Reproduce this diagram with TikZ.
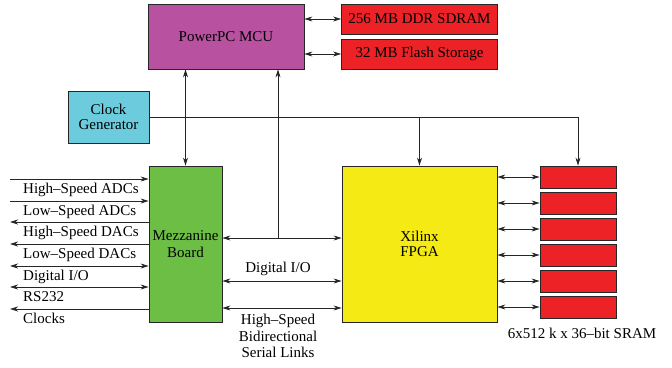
\documentclass[tikz,border=0pt]{standalone}
\usepackage{fontspec}
\setmainfont{Liberation Serif}
\usetikzlibrary{arrows.meta}
\definecolor{ppccol}{RGB}{184,82,160}
\definecolor{memcol}{RGB}{236,34,39}
\definecolor{mezzcol}{RGB}{108,190,69}
\definecolor{fpgacol}{RGB}{245,234,20}
\definecolor{clkcol}{RGB}{108,204,221}
\begin{document}
\begin{tikzpicture}[x=1pt,y=-1pt,
  box/.style={draw=black!85,line width=0.8pt,inner sep=0pt,align=center,
    font=\fontsize{15}{15}\selectfont},
  lbl/.style={inner sep=0pt,font=\fontsize{15}{16.5}\selectfont},
  conn/.style={draw=black!85,line width=0.8pt},
  tip/.tip={Stealth[length=8pt,width=5pt,inset=2.5pt]},
  uni/.style={conn,-tip},
  dbl/.style={conn,tip-tip}]
\useasboundingbox (0,0) rectangle (672,367);
% blocks
\node[box,fill=ppccol,minimum width=156pt,minimum height=65pt] (ppc) at (226,36.5) {PowerPC MCU};
\node[box,fill=memcol,minimum width=156pt,minimum height=30pt] (ddr) at (419.5,19) {256 MB DDR SDRAM};
\node[box,fill=memcol,minimum width=156pt,minimum height=30pt] (flash) at (419.5,54) {32 MB Flash Storage};
\node[box,fill=clkcol,minimum width=81pt,minimum height=52pt] (clk) at (108.5,117) {Clock\\Generator};
\node[box,fill=mezzcol,minimum width=73pt,minimum height=156pt,font=\fontsize{15}{16.5}\selectfont] (mezz) at (185.5,244) {Mezzanine\\Board};
\node[box,fill=fpgacol,minimum width=155pt,minimum height=156pt] (fpga) at (419.5,244) {Xilinx\\FPGA};
\foreach \i/\y in {1/177,2/203,3/229,4/255,5/281,6/307}{
  \node[box,fill=memcol,minimum width=76pt,minimum height=22pt] (s\i) at (578,\y) {};
  \draw[dbl] (fpga.east |- s\i) -- (s\i.west);
}
\node[lbl,anchor=base] (sramlbl) at (582,338) {6x512 k x 36–bit SRAM};
% PowerPC links
\draw[dbl] (ppc.east |- ddr) -- (ddr.west);
\draw[dbl] (ppc.east |- flash) -- (flash.west);
\draw[dbl] (mezz.north |- ppc.south) -- (mezz.north);
\coordinate (j) at (278,238);
\draw[uni] (j) -- (j |- ppc.south);
% clock
\coordinate (c2) at (s1.north |- clk.east);
\draw[conn] (clk.east) -- (c2);
\draw[uni] (fpga.north |- clk.east) -- (fpga.north);
\draw[uni] (c2) -- (s1.north);
% mezzanine <-> FPGA
\draw[dbl] (mezz.east |- j) -- (fpga.west |- j);
\coordinate (dio) at (278,281);
\draw[dbl] (mezz.east |- dio) -- (fpga.west |- dio);
\node[lbl,anchor=base] (diolbl) at (278,272) {Digital I/O};
\coordinate (hss) at (278,308);
\draw[dbl] (mezz.east |- hss) -- (fpga.west |- hss);
\node[lbl,anchor=north,align=center] (hsslbl) at (278,314) {High–Speed\\Bidirectional\\Serial Links};
% left side signals
\foreach \n/\y/\t in {1/179/{High–Speed ADCs},2/201/{Low–Speed ADCs}}{
  \coordinate (l\n) at (10,\y);
  \draw[uni] (l\n) -- (mezz.west |- l\n);
  \node[lbl,anchor=base west] (t\n) at ([shift={(13,14)}]l\n) {\t};
}
\foreach \n/\y/\t in {3/222/{High–Speed DACs},4/244/{Low–Speed DACs},7/309/{Clocks}}{
  \coordinate (l\n) at (10,\y);
  \draw[uni] (mezz.west |- l\n) -- (l\n);
  \node[lbl,anchor=base west] (t\n) at ([shift={(13,14)}]l\n) {\t};
}
\foreach \n/\y/\t in {5/266/{Digital I/O},6/287/{RS232}}{
  \coordinate (l\n) at (10,\y);
  \draw[dbl] (l\n) -- (mezz.west |- l\n);
  \node[lbl,anchor=base west] (t\n) at ([shift={(13,14)}]l\n) {\t};
}
\end{tikzpicture}
\end{document}
